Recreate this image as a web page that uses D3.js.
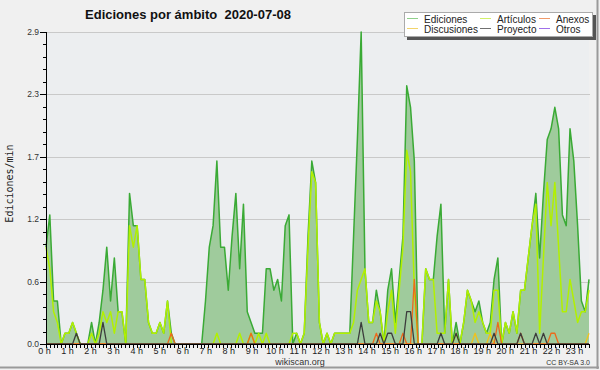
<!DOCTYPE html>
<html>
<head>
<meta charset="utf-8">
<script src="https://cdn.jsdelivr.net/npm/d3@7"></script>
<style>
body { margin: 0; background: #f0f0f0; }
svg { display: block; }
</style>
</head>
<body>
<div id="chart"></div>
<script>
// one value every 10 minutes, 144 points per series (edits per minute)
var ediciones = [
  0.9, 1.2, 0.4, 0.4, 0.0, 0.1, 0.1, 0.2, 0.1, 0.0, 0.0, 0.0,
  0.2, 0.0, 0.2, 0.5, 0.9, 0.4, 0.8, 0.3, 0.3, 0.0, 1.4, 1.1,
  1.1, 0.6, 0.6, 0.2, 0.1, 0.1, 0.2, 0.1, 0.4, 0.1, 0.0, 0.0,
  0.0, 0.0, 0.0, 0.0, 0.0, 0.0, 0.4, 0.9, 1.1, 1.7, 0.9, 0.9,
  0.5, 1.0, 1.4, 0.7, 1.3, 0.3, 0.2, 0.1, 0.1, 0.1, 0.7, 0.7,
  0.5, 0.6, 0.4, 1.1, 1.2, 0.0, 0.1, 0.0, 0.1, 1.0, 1.7, 1.5,
  0.2, 0.0, 0.1, 0.0, 0.1, 0.1, 0.1, 0.1, 0.1, 1.0, 1.9, 2.9,
  0.7, 0.2, 0.2, 0.5, 0.3, 0.0, 0.5, 0.7, 0.2, 0.6, 1.0, 2.4,
  2.2, 1.7, 0.0, 0.0, 0.7, 0.6, 0.6, 1.0, 1.3, 0.1, 0.6, 0.0,
  0.2, 0.0, 0.2, 0.5, 0.4, 0.3, 0.4, 0.2, 0.1, 0.2, 0.6, 0.8,
  0.0, 0.2, 0.1, 0.3, 0.1, 0.5, 0.5, 0.8, 1.1, 1.4, 0.8, 1.4,
  1.9, 2.0, 2.2, 2.0, 1.2, 1.1, 2.0, 1.7, 1.1, 0.4, 0.3, 0.6
];
var articulos = [
  0.9, 0.7, 0.3, 0.2, 0.0, 0.1, 0.1, 0.2, 0.1, 0.0, 0.0, 0.0,
  0.1, 0.0, 0.1, 0.3, 0.2, 0.3, 0.1, 0.3, 0.3, 0.0, 1.1, 0.9,
  1.1, 0.6, 0.6, 0.2, 0.1, 0.1, 0.2, 0.1, 0.4, 0.0, 0.0, 0.0,
  0.0, 0.0, 0.0, 0.0, 0.0, 0.0, 0.0, 0.0, 0.0, 0.1, 0.0, 0.0,
  0.0, 0.0, 0.0, 0.1, 0.0, 0.0, 0.1, 0.0, 0.1, 0.0, 0.1, 0.0,
  0.0, 0.0, 0.0, 0.0, 0.0, 0.1, 0.1, 0.0, 0.1, 0.9, 1.6, 1.5,
  0.2, 0.0, 0.1, 0.0, 0.1, 0.1, 0.1, 0.1, 0.1, 0.2, 0.5, 0.6,
  0.7, 0.2, 0.2, 0.4, 0.3, 0.0, 0.3, 0.5, 0.1, 0.5, 0.9, 1.8,
  1.6, 0.5, 0.0, 0.0, 0.7, 0.6, 0.6, 0.1, 0.1, 0.1, 0.6, 0.0,
  0.1, 0.0, 0.2, 0.5, 0.4, 0.2, 0.3, 0.2, 0.1, 0.1, 0.5, 0.5,
  0.0, 0.2, 0.1, 0.3, 0.1, 0.5, 0.5, 0.8, 1.1, 1.3, 0.1, 0.8,
  1.5, 1.1, 1.5, 0.9, 0.3, 0.3, 0.6, 0.4, 0.2, 0.3, 0.3, 0.5
];
var anexos = [
  0, 0, 0, 0, 0, 0, 0, 0, 0, 0, 0, 0,
  0, 0, 0, 0, 0, 0, 0, 0, 0, 0, 0, 0,
  0, 0, 0, 0, 0, 0, 0, 0, 0, 0.1, 0, 0,
  0, 0, 0, 0, 0, 0, 0, 0, 0, 0, 0, 0,
  0, 0, 0, 0, 0, 0, 0.1, 0, 0, 0, 0, 0,
  0, 0, 0, 0, 0, 0, 0, 0, 0, 0, 0, 0,
  0, 0, 0, 0, 0, 0, 0, 0, 0, 0, 0, 0,
  0, 0, 0, 0.1, 0, 0, 0, 0, 0, 0, 0.1, 0,
  0, 0.6, 0, 0, 0, 0, 0, 0, 0, 0, 0, 0,
  0, 0, 0, 0, 0, 0, 0, 0, 0, 0, 0, 0.2,
  0, 0, 0, 0, 0, 0.1, 0, 0, 0, 0, 0, 0,
  0, 0.1, 0.1, 0, 0, 0, 0, 0, 0, 0, 0, 0
];
var discusiones = [
  0, 0, 0, 0, 0, 0, 0, 0, 0, 0, 0, 0,
  0, 0, 0, 0, 0, 0, 0, 0, 0, 0, 0, 0,
  0, 0, 0, 0, 0, 0, 0, 0, 0, 0, 0, 0,
  0, 0, 0, 0, 0, 0, 0, 0, 0, 0, 0, 0,
  0, 0, 0, 0, 0, 0, 0, 0, 0, 0, 0, 0,
  0, 0, 0, 0, 0, 0, 0, 0, 0, 0, 0, 0,
  0, 0, 0, 0, 0, 0, 0, 0, 0, 0, 0, 0,
  0, 0, 0, 0, 0, 0, 0, 0, 0, 0, 0, 0,
  0, 0, 0, 0, 0, 0, 0, 0, 0, 0, 0, 0,
  0, 0, 0, 0, 0, 0.1, 0, 0, 0, 0.1, 0, 0,
  0, 0, 0, 0, 0, 0, 0, 0, 0, 0, 0, 0,
  0, 0, 0, 0, 0, 0, 0, 0, 0, 0, 0, 0.1
];
var proyecto = [
  0, 0, 0, 0, 0, 0, 0, 0, 0.1, 0, 0, 0,
  0, 0, 0, 0.2, 0, 0, 0, 0, 0, 0, 0, 0,
  0, 0, 0, 0, 0, 0, 0, 0, 0, 0, 0, 0,
  0, 0, 0, 0, 0, 0, 0, 0, 0, 0, 0, 0,
  0, 0, 0, 0, 0, 0, 0, 0, 0, 0, 0, 0,
  0, 0, 0, 0, 0, 0, 0, 0, 0, 0, 0, 0,
  0, 0, 0, 0, 0, 0, 0, 0, 0, 0, 0, 0.2,
  0, 0, 0, 0, 0.1, 0, 0.1, 0.1, 0, 0, 0, 0.3,
  0.3, 0, 0, 0, 0, 0, 0, 0, 0.1, 0, 0, 0,
  0.1, 0, 0, 0, 0, 0, 0, 0, 0, 0, 0.1, 0,
  0, 0, 0, 0, 0, 0.1, 0, 0, 0, 0.1, 0, 0.1,
  0, 0, 0, 0, 0, 0, 0, 0, 0, 0, 0, 0
];
var otros = d3.range(144).map(function() { return 0; });

var hourLabels = d3.range(24).map(function(h) { return h + " h"; });
var yMax = 2.9;
var yTickLabels = ["0.0", "0.6", "1.2", "1.7", "2.3", "2.9"];

var series = [
  { name: "Ediciones",   values: ediciones,   color: "#3aaa35", legend: "#8fd08a" },
  { name: "Artículos",   values: articulos,   color: "#b2f000", legend: "#d2f06a" },
  { name: "Anexos",      values: anexos,      color: "#ec6a1c", legend: "#f09a6a" },
  { name: "Discusiones", values: discusiones, color: "#f0c21c", legend: "#f2d46a" },
  { name: "Proyecto",    values: proyecto,    color: "#3c3c3c", legend: "#707070" },
  { name: "Otros",       values: otros,       color: "#8a3ee8", legend: "#a070ea" }
];

var width = 600, height = 370;
var plotL = 46, plotR = 589, plotT = 32, plotB = 344;

var svg = d3.select("#chart").append("svg")
  .attr("width", width)
  .attr("height", height);

svg.append("rect").attr("width", width).attr("height", height).attr("fill", "#f0f0f0");
// frame
svg.append("line").attr("x1", 597.5).attr("x2", 597.5).attr("y1", 0).attr("y2", 369).attr("stroke", "#9a9a9a").attr("stroke-width", 2);
svg.append("line").attr("x1", 0).attr("x2", 599).attr("y1", 367.5).attr("y2", 367.5).attr("stroke", "#9a9a9a").attr("stroke-width", 2);

var x = d3.scaleLinear().domain([0, ediciones.length - 1]).range([plotL, plotR]);
var xTick = d3.scaleLinear().domain([0, 144]).range([plotL, plotR]);
var xLabel = d3.scaleLinear().domain([0, 23]).range([44.5, 574.5]);
var y = d3.scaleLinear().domain([0, yMax]).range([plotB, plotT]);

svg.append("rect")
  .attr("x", plotL).attr("y", plotT)
  .attr("width", plotR - plotL).attr("height", plotB - plotT)
  .attr("fill", "#eceef0");

// grid
var yTickVals = yTickLabels.map(function(d, i) { return yMax * i / 5; });
svg.append("g").selectAll("line")
  .data(yTickVals.slice(1))
  .enter().append("line")
  .attr("x1", plotL).attr("x2", plotR + 1)
  .attr("y1", function(d) { return Math.round(y(d)) + 0.5; })
  .attr("y2", function(d) { return Math.round(y(d)) + 0.5; })
  .attr("stroke", "#c9c9c9");

// series
var area = d3.area()
  .x(function(d, i) { return x(i); })
  .y0(y(0))
  .y1(function(d) { return y(d); });
var line = d3.line()
  .x(function(d, i) { return x(i); })
  .y(function(d) { return y(d); });

svg.append("path")
  .datum(ediciones)
  .attr("d", area)
  .attr("fill", "#9fcb9c");

var drawOrder = [series[0], series[1], series[5], series[3], series[2], series[4]];
drawOrder.forEach(function(s, k) {
  svg.append("path")
    .datum(s.values)
    .attr("d", line)
    .attr("fill", "none")
    .attr("stroke", s.color)
    .attr("stroke-width", k < 2 ? 1.5 : 1.3)
    .attr("stroke-linejoin", "round");
});

// axes
var axis = svg.append("g").attr("stroke", "#000").attr("shape-rendering", "crispEdges");
axis.append("line").attr("x1", plotL + 0.5).attr("x2", plotL + 0.5).attr("y1", plotT).attr("y2", plotB + 1);
axis.append("line").attr("x1", plotL).attr("x2", plotR + 1).attr("y1", plotB + 0.5).attr("y2", plotB + 0.5);

// x ticks every 10 minutes
axis.selectAll(".xt")
  .data(d3.range(0, 145))
  .enter().append("line")
  .attr("x1", function(d) { return Math.round(xTick(d)) + 0.5; })
  .attr("x2", function(d) { return Math.round(xTick(d)) + 0.5; })
  .attr("y1", plotB + 1)
  .attr("y2", plotB + 4);

// y ticks, major + minor
var yMinor = d3.range(0, 26).map(function(i) { return yMax * i / 25; });
axis.selectAll(".ym")
  .data(yMinor)
  .enter().append("line")
  .attr("x1", function(d, i) { return i % 5 === 0 ? plotL - 6 : plotL - 3; })
  .attr("x2", plotL)
  .attr("y1", function(d) { return Math.round(y(d)) + 0.5; })
  .attr("y2", function(d) { return Math.round(y(d)) + 0.5; });

svg.append("g").selectAll("text")
  .data(yTickLabels)
  .enter().append("text")
  .attr("x", 39)
  .attr("y", function(d, i) { return y(yTickVals[i]) + 3; })
  .attr("text-anchor", "end")
  .attr("font-family", "Liberation Sans")
  .attr("font-size", 8.5)
  .attr("fill", "#333")
  .text(function(d) { return d; });

svg.append("g").selectAll("text")
  .data(hourLabels)
  .enter().append("text")
  .attr("x", function(d, i) { return xLabel(i); })
  .attr("y", 354)
  .attr("text-anchor", "middle")
  .attr("font-family", "Liberation Sans")
  .attr("font-size", 9)
  .attr("fill", "#222")
  .text(function(d) { return d; });

// titles
svg.append("text")
  .attr("x", 188)
  .attr("y", 18.5)
  .attr("text-anchor", "middle")
  .attr("font-family", "Liberation Sans")
  .attr("font-weight", "bold")
  .attr("font-size", 13)
  .attr("fill", "#111")
  .attr("xml:space", "preserve")
  .text("Ediciones por ámbito  2020-07-08");

svg.append("text")
  .attr("transform", "translate(13,183.5) rotate(-90)")
  .attr("text-anchor", "middle")
  .attr("font-family", "DejaVu Sans Mono")
  .attr("font-size", 10)
  .attr("fill", "#222")
  .text("Ediciones/min");

svg.append("text")
  .attr("x", 300).attr("y", 364.5)
  .attr("text-anchor", "middle")
  .attr("font-family", "Liberation Sans")
  .attr("font-size", 9)
  .attr("fill", "#333")
  .text("wikiscan.org");

svg.append("text")
  .attr("x", 590).attr("y", 364.5)
  .attr("text-anchor", "end")
  .attr("font-family", "Liberation Sans")
  .attr("font-size", 7)
  .attr("fill", "#333")
  .text("CC BY-SA 3.0");

// legend
var lg = svg.append("g");
lg.append("rect").attr("x", 407).attr("y", 15).attr("width", 189).attr("height", 25).attr("fill", "#555");
lg.append("rect").attr("x", 404.5).attr("y", 12.5).attr("width", 188).attr("height", 24)
  .attr("fill", "#fff").attr("stroke", "#aaa");
var colX = [407, 480, 539];
var rowY = [18.5, 28.5];
lg.selectAll("g")
  .data(series)
  .enter().append("g")
  .each(function(s, i) {
    var g = d3.select(this);
    var cx = colX[i % 3], cy = rowY[Math.floor(i / 3)];
    g.append("line")
      .attr("x1", cx).attr("x2", cx + 11)
      .attr("y1", cy).attr("y2", cy)
      .attr("stroke", s.legend);
    g.append("text")
      .attr("x", cx + 17).attr("y", cy + 4)
      .attr("font-family", "Liberation Sans")
      .attr("font-size", 10)
      .attr("fill", "#222")
      .text(s.name);
  });
</script>
</body>
</html>
